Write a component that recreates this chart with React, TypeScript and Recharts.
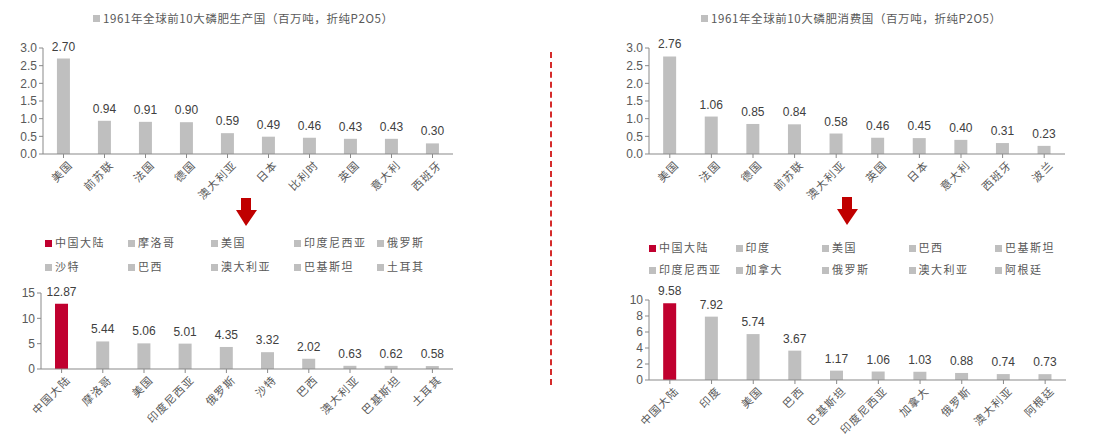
import React from 'react';
import { BarChart, Bar, XAxis, YAxis, Cell, LabelList } from 'recharts';

const prod1961Names = ['美国', '前苏联', '法国', '德国', '澳大利亚', '日本', '比利时', '英国', '意大利', '西班牙'];
const prod1961Values = [2.70, 0.94, 0.91, 0.90, 0.59, 0.49, 0.46, 0.43, 0.43, 0.30];

const cons1961Names = ['美国', '法国', '德国', '前苏联', '澳大利亚', '英国', '日本', '意大利', '西班牙', '波兰'];
const cons1961Values = [2.76, 1.06, 0.85, 0.84, 0.58, 0.46, 0.45, 0.40, 0.31, 0.23];

const prodNowNames = ['中国大陆', '摩洛哥', '美国', '印度尼西亚', '俄罗斯', '沙特', '巴西', '澳大利亚', '巴基斯坦', '土耳其'];
const prodNowValues = [12.87, 5.44, 5.06, 5.01, 4.35, 3.32, 2.02, 0.63, 0.62, 0.58];

const consNowNames = ['中国大陆', '印度', '美国', '巴西', '巴基斯坦', '印度尼西亚', '加拿大', '俄罗斯', '澳大利亚', '阿根廷'];
const consNowValues = [9.58, 7.92, 5.74, 3.67, 1.17, 1.06, 1.03, 0.88, 0.74, 0.73];

const ticks1961 = [0, 0.5, 1.0, 1.5, 2.0, 2.5, 3.0];
const ticksProdNow = [0, 5, 10, 15];
const ticksConsNow = [0, 2, 4, 6, 8, 10];

const GRAY = '#BFBFBF';
const RED = '#C0002F';
const AXIS = '#898989';
const TXT = '#595959';
const SANS = '"Liberation Sans", Arial, sans-serif';
const CJK = '"Noto Sans CJK SC", sans-serif';

const build = (names: string[], values: number[]) => names.map((n, i) => ({ name: n, value: values[i] }));

const CatTick = (props: any) => {
  const { x, y, payload } = props;
  return (
    <g transform={`translate(${x},${y})`}>
      <text x={3} y={11} textAnchor="end" transform="rotate(-45)" fontSize={11} letterSpacing={1.2} fill={TXT} fontFamily={CJK}>
        {payload.value}
      </text>
    </g>
  );
};

type PanelProps = {
  names: string[];
  values: number[];
  ticks: number[];
  width: number;
  height: number;
  margin: { top: number; right: number; left: number; bottom: number };
  xHeight: number;
  decimals: number;
  highlightFirst?: boolean;
};

const Panel = ({ names, values, ticks, width, height, margin, xHeight, decimals, highlightFirst }: PanelProps) => {
  const data = build(names, values);
  return (
    <BarChart width={width} height={height} data={data} margin={margin} barCategoryGap="34%">
      <XAxis
        dataKey="name"
        interval={0}
        tick={<CatTick />}
        height={xHeight}
        axisLine={{ stroke: AXIS }}
        tickLine={{ stroke: AXIS }}
        tickSize={4}
        scale="band"
      />
      <YAxis
        domain={[ticks[0], ticks[ticks.length - 1]]}
        ticks={ticks}
        width={35}
        interval={0}
        axisLine={{ stroke: AXIS }}
        tickLine={{ stroke: AXIS }}
        tickSize={4}
        tick={{ fontSize: 12, fill: TXT, fontFamily: SANS }}
        tickFormatter={(v: number) => (decimals ? v.toFixed(1) : String(v))}
      />
      <Bar dataKey="value" isAnimationActive={false} fill={GRAY}>
        {data.map((d, i) => (
          <Cell key={d.name} fill={highlightFirst && i === 0 ? RED : GRAY} />
        ))}
        <LabelList
          dataKey="value"
          position="top"
          offset={8}
          formatter={(v: any) => Number(v).toFixed(2)}
          style={{ fontSize: 12, fill: '#404040', fontFamily: SANS }}
        />
      </Bar>
    </BarChart>
  );
};

const Square = ({ color }: { color: string }) => (
  <span style={{ display: 'inline-block', width: 7, height: 7, background: color, marginRight: 3, verticalAlign: 'middle', position: 'relative', top: -1 }} />
);

const TopLegend = ({ text, left, top }: { text: string; left: number; top: number }) => (
  <div style={{ position: 'absolute', left, top, fontSize: 11.5, letterSpacing: 0.6, fontFamily: CJK, color: TXT, whiteSpace: 'nowrap', lineHeight: '14px' }}>
    <Square color={GRAY} />
    {text}
  </div>
);

const GridLegend = ({ names, left, top, colW, rowH }: { names: string[]; left: number; top: number; colW: number; rowH: number }) => (
  <>
    {names.map((n, i) => (
      <div
        key={n + i}
        style={{
          position: 'absolute',
          left: left + (i % 5) * colW,
          top: top + Math.floor(i / 5) * rowH,
          fontSize: 11,
          letterSpacing: 1.5,
          fontFamily: CJK,
          color: TXT,
          whiteSpace: 'nowrap',
          lineHeight: '14px',
        }}
      >
        <Square color={i === 0 ? RED : GRAY} />
        {n}
      </div>
    ))}
  </>
);

const Arrow = ({ left, top }: { left: number; top: number }) => (
  <svg style={{ position: 'absolute', left, top }} width={22} height={30}>
    <polygon points="5,0 15,0 15,12 21,12 10,28 0,12 5,12" fill="#C00000" />
  </svg>
);

export default function App() {
  return (
    <div style={{ position: 'absolute', left: 0, top: 0, width: 1093, height: 434, background: '#fff', overflow: 'hidden' }}>
      <TopLegend text="1961年全球前10大磷肥生产国（百万吨，折纯P2O5）" left={93} top={11} />
      <TopLegend text="1961年全球前10大磷肥消费国（百万吨，折纯P2O5）" left={701} top={11} />

      <div style={{ position: 'absolute', left: 0, top: 0 }}>
        <Panel names={prod1961Names} values={prod1961Values} ticks={ticks1961} width={470} height={205}
          margin={{ top: 48, right: 17, left: 8, bottom: 0 }} xHeight={51} decimals={1} />
      </div>
      <div style={{ position: 'absolute', left: 550, top: 0 }}>
        <Panel names={cons1961Names} values={cons1961Values} ticks={ticks1961} width={530} height={205}
          margin={{ top: 48, right: 15, left: 64, bottom: 0 }} xHeight={51} decimals={1} />
      </div>

      <Arrow left={236} top={198} />
      <Arrow left={837} top={197} />

      <GridLegend names={prodNowNames} left={45} top={235} colW={83} rowH={24} />
      <GridLegend names={consNowNames} left={649} top={240} colW={86.5} rowH={22} />

      <div style={{ position: 'absolute', left: 0, top: 250 }}>
        <Panel names={prodNowNames} values={prodNowValues} ticks={ticksProdNow} width={470} height={184}
          margin={{ top: 43, right: 17, left: 6, bottom: 0 }} xHeight={65} decimals={0} highlightFirst />
      </div>
      <div style={{ position: 'absolute', left: 550, top: 260 }}>
        <Panel names={consNowNames} values={consNowValues} ticks={ticksConsNow} width={530} height={174}
          margin={{ top: 40, right: 14, left: 64, bottom: 0 }} xHeight={54} decimals={0} highlightFirst />
      </div>

      <div style={{ position: 'absolute', left: 550, top: 52, width: 0, height: 333, borderLeft: '2px dashed #D52B2B' }} />
    </div>
  );
}
